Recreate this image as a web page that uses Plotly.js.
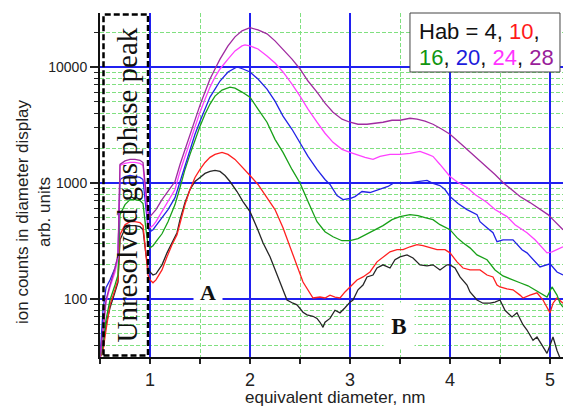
<!DOCTYPE html>
<html>
<head>
<meta charset="utf-8">
<script src="https://cdn.plot.ly/plotly-3.0.1.min.js"></script>
<style>html,body{margin:0;padding:0;background:#fff;}#chart{width:563px;height:407px;}</style>
</head>
<body>
<div id="chart"></div>
<script>
// Hab = 28 (purple)
const xH28 = [0.50,0.53,0.56,0.60,0.65,0.68,0.70,0.75,0.80,0.85,0.90,0.93,0.96,0.98,1.00,1.03,1.06,1.12,1.18,1.25,1.30,1.35,1.40,1.45,1.50,1.55,1.60,1.65,1.70,1.78,1.85,1.92,2.00,2.08,2.17,2.25,2.33,2.42,2.50,2.58,2.67,2.75,2.83,2.92,3.00,3.08,3.17,3.25,3.33,3.42,3.50,3.60,3.67,3.75,3.83,3.92,4.00,4.08,4.17,4.25,4.37,4.45,4.53,4.62,4.70,4.80,4.90,4.98,5.03,5.08,5.13];
const yH28 = [31,54,98,132,185,240,1445,1550,1600,1600,1570,1500,795,566,513,545,590,719,844,1030,1445,1950,2630,3550,4690,6080,7870,9610,11700,15200,18200,20500,21800,20900,19300,16800,14300,11700,9610,7570,6080,4880,4080,3550,3340,3210,3210,3275,3340,3475,3475,3615,3550,3410,3210,2905,2630,2290,1950,1695,1390,1185,1009,879,764,678,590,534,483,437,396];

// Hab = 24 (magenta)
const xH24 = [0.50,0.53,0.56,0.60,0.65,0.68,0.70,0.75,0.80,0.85,0.90,0.93,0.96,0.98,1.00,1.03,1.06,1.12,1.18,1.25,1.30,1.35,1.40,1.45,1.50,1.55,1.60,1.65,1.70,1.78,1.85,1.92,1.95,2.00,2.08,2.17,2.25,2.33,2.42,2.50,2.58,2.67,2.75,2.83,2.92,3.00,3.08,3.15,3.23,3.30,3.40,3.50,3.60,3.70,3.78,3.83,3.90,4.00,4.08,4.17,4.25,4.37,4.45,4.57,4.65,4.77,4.85,4.93,4.97,5.02,5.07,5.13];
const yH24 = [31,49,94,127,171,226,1417,1475,1503,1503,1475,1417,719,464,412,429,464,566,692,879,1258,1695,2290,3080,4080,5280,6710,8190,9610,11700,13760,15200,15500,15200,14300,12450,10830,9060,7130,5610,4330,3340,2685,2240,1950,1837,1730,1663,1597,1695,1765,1765,1800,1875,1765,1695,1445,1138,1009,914,795,678,590,513,437,373,324,276,250,255,266,282];

// Hab = 20 (blue)
const xH20 = [0.50,0.53,0.56,0.60,0.65,0.68,0.70,0.75,0.80,0.85,0.90,0.93,0.96,0.98,1.00,1.03,1.06,1.12,1.18,1.25,1.30,1.35,1.40,1.45,1.50,1.55,1.60,1.65,1.70,1.78,1.87,1.93,2.00,2.08,2.17,2.25,2.33,2.42,2.50,2.58,2.67,2.75,2.80,2.87,2.93,3.00,3.05,3.12,3.20,3.30,3.38,3.43,3.50,3.60,3.70,3.77,3.83,3.90,3.95,4.00,4.08,4.17,4.27,4.30,4.37,4.43,4.47,4.53,4.63,4.72,4.77,4.85,4.90,5.00,5.07,5.13];
const yH20 = [31,80,125,146,185,231,1072,1138,1161,1138,1116,1072,590,412,380,396,429,503,590,748,1030,1445,1950,2630,3410,4330,5500,6450,7570,9060,10000,9610,9060,7870,6450,5080,3770,2905,2240,1695,1309,1072,971,780,719,735,764,844,828,879,933,991,991,1009,1030,1052,991,951,879,764,665,590,534,464,412,373,312,324,324,266,250,209,189,201,171,161];

// Hab = 16 (green)
const xH16 = [0.50,0.53,0.56,0.60,0.65,0.68,0.70,0.75,0.80,0.85,0.90,0.93,0.96,0.98,1.00,1.03,1.06,1.12,1.18,1.25,1.30,1.35,1.40,1.45,1.50,1.55,1.60,1.65,1.72,1.80,1.85,1.92,2.00,2.08,2.17,2.25,2.33,2.42,2.50,2.58,2.67,2.75,2.83,2.92,3.00,3.08,3.17,3.25,3.33,3.42,3.50,3.60,3.68,3.75,3.83,3.90,4.00,4.07,4.13,4.20,4.27,4.37,4.45,4.53,4.62,4.70,4.78,4.85,4.90,4.97,5.02,5.07,5.10,5.13];
const yH16 = [31,40,66,98,132,161,534,651,719,719,705,665,396,294,276,288,312,365,464,651,914,1309,1765,2380,3080,3920,4790,5610,6325,6710,6580,6080,5500,4330,3340,2380,1837,1309,1000,692,464,380,344,318,318,331,365,396,429,483,513,534,523,503,483,437,396,338,305,276,240,218,178,158,146,138,130,120,113,104,127,108,92,85];

// Hab = 10 (red)
const xH10 = [0.50,0.53,0.56,0.60,0.65,0.68,0.70,0.75,0.80,0.85,0.90,0.93,0.96,0.98,1.00,1.03,1.06,1.12,1.17,1.22,1.27,1.30,1.35,1.40,1.45,1.50,1.55,1.60,1.65,1.72,1.78,1.85,1.92,2.00,2.08,2.17,2.25,2.33,2.43,2.53,2.63,2.70,2.75,2.80,2.85,2.90,2.95,3.00,3.07,3.13,3.20,3.27,3.33,3.40,3.47,3.53,3.60,3.67,3.73,3.80,3.87,3.95,4.00,4.07,4.13,4.20,4.30,4.37,4.43,4.47,4.50,4.57,4.63,4.70,4.73,4.80,4.87,4.93,5.00,5.03,5.07,5.13];
const yH10 = [31,36,54,89,120,146,358,437,464,464,455,429,240,161,146,138,146,178,231,294,358,455,651,879,1116,1309,1503,1663,1765,1837,1765,1597,1362,1161,971,748,590,412,240,140,102,104,102,108,104,102,115,127,146,155,171,209,231,255,266,266,282,294,288,276,266,266,250,209,185,178,178,161,155,132,127,122,120,108,102,108,113,98,76,92,102,92];

// Hab = 4 (black)
const xH4 = [0.50,0.53,0.56,0.60,0.65,0.68,0.70,0.75,0.80,0.85,0.90,0.93,0.96,0.98,1.00,1.03,1.06,1.12,1.17,1.22,1.27,1.30,1.35,1.40,1.45,1.50,1.55,1.60,1.65,1.70,1.75,1.80,1.87,1.93,2.00,2.07,2.13,2.20,2.27,2.33,2.37,2.43,2.47,2.53,2.57,2.63,2.67,2.70,2.73,2.75,2.80,2.85,2.90,2.95,3.00,3.03,3.08,3.13,3.17,3.23,3.27,3.33,3.40,3.45,3.50,3.57,3.63,3.70,3.77,3.83,3.90,3.97,4.00,4.05,4.10,4.17,4.20,4.27,4.33,4.40,4.45,4.50,4.55,4.62,4.67,4.73,4.77,4.83,4.87,4.92,4.97,5.00,5.03,5.07,5.10,5.13];
const yH4 = [31,40,60,84,115,140,324,404,429,429,420,396,240,185,171,161,165,197,250,305,373,483,678,879,1030,1116,1209,1258,1283,1258,1161,1030,844,692,566,412,305,231,161,120,98,92,89,77,73,71,68,63,57,63,68,80,76,84,94,98,120,132,155,161,185,197,185,218,231,240,226,197,193,197,178,197,197,185,155,132,115,98,92,92,94,98,80,70,76,60,54,44,47,40,34,40,47,36,31,31];

const xTickVals = [1,2,3,4,5];
const yTickVals = [100,1000,10000];
const yMinorVals = [40,50,60,70,80,90,200,300,400,500,600,700,800,900,2000,3000,4000,5000,6000,7000,8000,9000,20000];
const legendLine1 = 'Hab = 4, <span style="color:#ff1a1a">10</span>,';
const legendLine2 = '<span style="color:#129612">16</span>, <span style="color:#1c1cdc">20</span>, <span style="color:#ff33ff">24</span>, <span style="color:#9a1e9a">28</span>';

const series = [
  {x: xH4,  y: yH4,  color: '#262626'},
  {x: xH10, y: yH10, color: '#ff2020'},
  {x: xH16, y: yH16, color: '#18a018'},
  {x: xH20, y: yH20, color: '#2222e6'},
  {x: xH24, y: yH24, color: '#ff40ff'},
  {x: xH28, y: yH28, color: '#a02ba0'}
];

const traces = series.map(s => ({
  x: s.x, y: s.y, type: 'scatter', mode: 'lines',
  line: {color: s.color, width: 1.3}, hoverinfo: 'skip', showlegend: false
}));

const blueGrid = '#2020f0';
const greenGrid = '#80e080';
const fontSans = 'Liberation Sans, Arial, sans-serif';
const fontSerif = 'Liberation Serif, Times New Roman, serif';

const layout = {
  width: 563, height: 407,
  margin: {l: 100, r: 0, t: 13, b: 50},
  paper_bgcolor: '#fff', plot_bgcolor: '#fff',
  showlegend: false,
  xaxis: {
    range: [0.5, 5.13], tickvals: xTickVals, ticktext: xTickVals.map(String),
    showgrid: true, gridcolor: blueGrid, gridwidth: 1.3,
    ticks: 'outside', ticklen: 5, tickwidth: 1.5, tickcolor: '#222',
    showline: true, linecolor: '#111', linewidth: 2, zeroline: false,
    tickfont: {family: fontSans, size: 18, color: '#222'},
    minor: {dtick: 0.5, tick0: 0, ticks: 'outside', ticklen: 5, tickwidth: 1.5, tickcolor: '#222',
            showgrid: true, gridcolor: greenGrid, griddash: '4px,2px', gridwidth: 1}
  },
  yaxis: {
    type: 'log', range: [1.5, 4.4655], tickvals: yTickVals, ticktext: yTickVals.map(String),
    showgrid: true, gridcolor: blueGrid, gridwidth: 1.5,
    ticks: 'outside', ticklen: 8, tickwidth: 1.5, tickcolor: '#222',
    showline: true, linecolor: '#111', linewidth: 2, zeroline: false,
    tickfont: {family: fontSans, size: 14, color: '#222'},
    minor: {tickvals: yMinorVals, ticks: 'outside', ticklen: 4, tickwidth: 1, tickcolor: '#222',
            showgrid: true, gridcolor: greenGrid, griddash: '4px,2px', gridwidth: 1}
  },
  shapes: [
    {type: 'rect', xref: 'x', yref: 'paper', x0: 0.535, x1: 0.98, y0: 0.004, y1: 0.996,
     line: {color: '#000', width: 2.5, dash: '6px,3px'}, layer: 'above'},
    {type: 'rect', xref: 'paper', yref: 'paper', x0: 0.6695, x1: 0.9935, y0: 0.8285, y1: 1.0,
     fillcolor: '#fff', line: {color: '#444', width: 1}, layer: 'above'}
  ],
  annotations: [
    {text: 'Unresolved gas phase peak', xref: 'x', yref: 'paper', x: 0.765, y: 0.5,
     xanchor: 'center', yanchor: 'middle',
     textangle: -90, showarrow: false, font: {family: fontSerif, size: 29, color: '#111'}},
    {text: '<b>A</b>', xref: 'x', yref: 'paper', x: 1.58, y: 0.189, xanchor: 'center', yanchor: 'middle',
     width: 28, height: 24, bgcolor: '#fff', borderpad: 0,
     showarrow: false, font: {family: fontSerif, size: 22, color: '#111'}},
    {text: '<b>B</b>', xref: 'x', yref: 'paper', x: 3.49, y: 0.090, xanchor: 'center', yanchor: 'middle',
     width: 30, height: 46, bgcolor: '#fff', borderpad: 0,
     showarrow: false, font: {family: fontSerif, size: 23, color: '#111'}},
    {text: legendLine1, xref: 'paper', yref: 'paper', x: 0.685, y: 0.945, xanchor: 'left', yanchor: 'middle',
     showarrow: false, font: {family: fontSans, size: 22, color: '#111'}},
    {text: legendLine2, xref: 'paper', yref: 'paper', x: 0.685, y: 0.872, xanchor: 'left', yanchor: 'middle',
     showarrow: false, font: {family: fontSans, size: 22, color: '#111'}},
    {text: 'ion counts in diameter display<br>arb. units', xref: 'paper', yref: 'paper',
     x: -0.1447, y: 0.4215, xanchor: 'center', yanchor: 'middle', textangle: -90, showarrow: false,
     font: {family: fontSans, size: 17, color: '#222'}},
    {text: 'equivalent diameter, nm', xref: 'paper', yref: 'paper', x: 0.5076, y: -0.1163,
     xanchor: 'center', yanchor: 'middle', showarrow: false, font: {family: fontSans, size: 17, color: '#222'}}
  ]
};

Plotly.newPlot('chart', traces, layout, {displayModeBar: false, staticPlot: true});
</script>
</body>
</html>
